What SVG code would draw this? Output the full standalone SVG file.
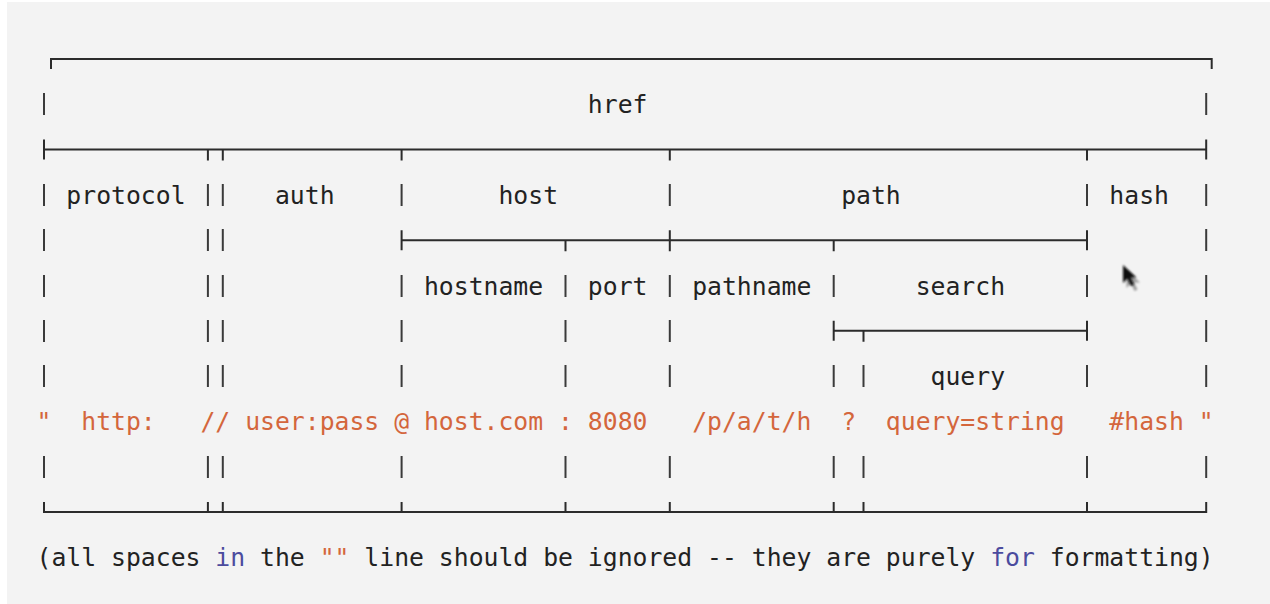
<svg xmlns="http://www.w3.org/2000/svg" width="1270" height="604" viewBox="0 0 1270 604">
<style>
.t{font-family:"DejaVu Sans Mono","Liberation Mono",monospace;font-size:24.75px;fill:#222;white-space:pre}
.o{fill:#d4663c}
.b{fill:#4b4b9e}
.ln{stroke:#2b2b2b;stroke-width:2;fill:none}
.bar{stroke:#3a3a3a;stroke-width:2;fill:none}
</style>
<defs>
<filter id="blur" x="-50%" y="-50%" width="200%" height="200%"><feGaussianBlur stdDeviation="0.9"/></filter>
</defs>
<rect width="1270" height="604" fill="#ffffff"/>
<rect x="7" y="2" width="1263" height="602" fill="#f3f3f3"/>

<g id="connectors">
  <!-- horizontal rules -->
  <path class="ln" d="M51 59H1211.7M44 149.6H1206.2M401.6 240.2H1087M833.7 330.8H1087M44 512H1206.2"/>
  <!-- corners / junction ticks -->
  <path class="ln" d="M51 58V69M1211.7 58V69
    M44 139.6V159.6M207.9 149.6V160.6M222.8 149.6V160.6M401.6 149.6V160.6M669.8 149.6V160.6M1087 149.6V160.6M1206.2 139.6V159.6
    M401.6 230.2V250.2M565.5 240.2V251.2M669.8 230.2V251.2M833.7 240.2V251.2M1087 230.2V250.2
    M833.7 320.8V340.8M863.5 330.8V341.8M1087 320.8V340.8
    M44 502V513M207.9 502V513M222.8 502V513M401.6 502V513M565.5 502V513M669.8 502V513M833.7 502V513M863.5 502V513M1087 502V513M1206.2 502V513"/>
  <!-- text-row bars -->
  <path class="bar" d="M44 93V115M1206.2 93V115
    M44 184V206M207.9 184V206M222.8 184V206M401.6 184V206M669.8 184V206M1087 184V206M1206.2 184V206
    M44 229V251M207.9 229V251M222.8 229V251M1206.2 229V251
    M44 275V297M207.9 275V297M222.8 275V297M401.6 275V297M565.5 275V297M669.8 275V297M833.7 275V297M1087 275V297M1206.2 275V297
    M44 320V342M207.9 320V342M222.8 320V342M401.6 320V342M565.5 320V342M669.8 320V342M1206.2 320V342
    M44 365V387M207.9 365V387M222.8 365V387M401.6 365V387M565.5 365V387M669.8 365V387M833.7 365V387M863.5 365V387M1087 365V387M1206.2 365V387
    M44 456V478M207.9 456V478M222.8 456V478M401.6 456V478M565.5 456V478M669.8 456V478M833.7 456V478M863.5 456V478M1087 456V478M1206.2 456V478"/>
</g>

<g id="href"><text class="t" x="587.85" y="113.3">href</text></g>
<g id="protocol"><text class="t" x="66.35" y="203.9">protocol</text></g>
<g id="auth"><text class="t" x="274.95" y="203.9">auth</text></g>
<g id="host"><text class="t" x="498.45" y="203.9">host</text></g>
<g id="path"><text class="t" x="841.15" y="203.9">path</text></g>
<g id="hash"><text class="t" x="1109.35" y="203.9">hash</text></g>
<g id="hostname"><text class="t" x="423.95" y="294.5">hostname</text></g>
<g id="port"><text class="t" x="587.85" y="294.5">port</text></g>
<g id="pathname"><text class="t" x="692.15" y="294.5">pathname</text></g>
<g id="search"><text class="t" x="915.65" y="294.5">search</text></g>
<g id="query"><text class="t" x="930.55" y="385.1">query</text></g>

<g id="url-line"><text class="t o" x="36.55" y="430.4" xml:space="preserve" textLength="1177.1" lengthAdjust="spacing">"  http:   // user:pass @ host.com : 8080   /p/a/t/h  ?  query=string   #hash "</text></g>

<g id="note"><text class="t" x="36.55" y="566.3" xml:space="preserve" textLength="1177.1" lengthAdjust="spacing">(all spaces <tspan class="b">in</tspan> the <tspan class="o">""</tspan> line should be ignored -- they are purely <tspan class="b">for</tspan> formatting)</text></g>

<g id="cursor">
  <path d="M1125 268L1125 286L1129.5 281.5L1133 289L1136 287.6L1132.6 280.4L1138.5 280.4Z" fill="#000" opacity="0.35" filter="url(#blur)" transform="translate(1.5,2)"/>
  <path d="M1123 265L1123 283L1127.5 278.5L1131 286L1134 284.6L1130.6 277.4L1136.5 277.4Z" fill="#111" filter="url(#blur)"/>
</g>
</svg>
